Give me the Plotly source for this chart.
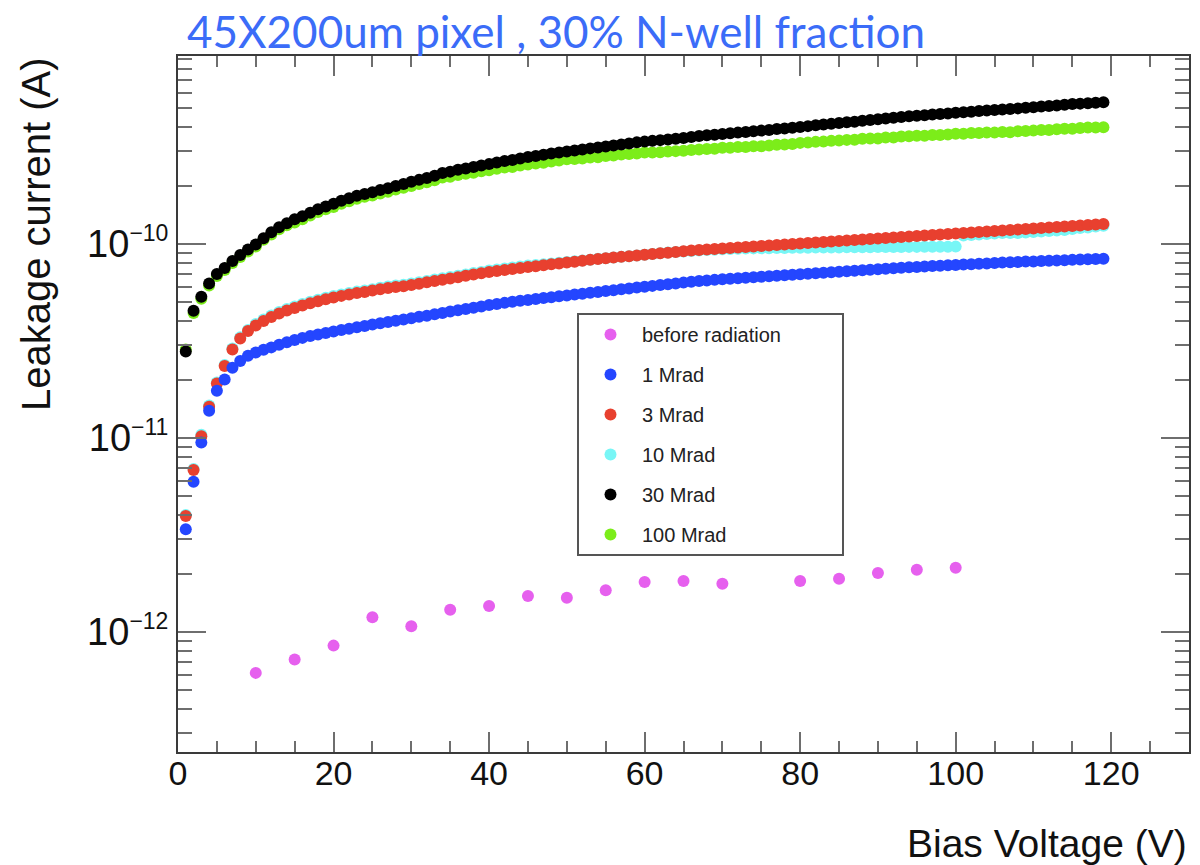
import plotly.graph_objects as go

# ---------------- data ----------------
volts = list(range(1, 120))

before_v = [10, 15, 20, 25, 30, 35, 40, 45, 50, 55, 60, 65, 70, 80, 85, 90, 95, 100]
before_i = [6.15e-13, 7.2e-13, 8.5e-13, 1.19e-12, 1.07e-12, 1.30e-12, 1.36e-12, 1.53e-12, 1.50e-12,
            1.64e-12, 1.81e-12, 1.83e-12, 1.77e-12, 1.83e-12, 1.88e-12, 2.01e-12, 2.09e-12, 2.14e-12]

mrad1_i = [3.38e-12, 5.95e-12, 9.46e-12, 1.38e-11, 1.75e-11, 2.00e-11, 2.30e-11, 2.49e-11, 2.65e-11, 2.76e-11,
           2.85e-11, 2.93e-11, 3.02e-11, 3.11e-11, 3.20e-11, 3.28e-11, 3.35e-11, 3.41e-11, 3.48e-11, 3.54e-11,
           3.60e-11, 3.66e-11, 3.72e-11, 3.78e-11, 3.84e-11, 3.90e-11, 3.96e-11, 4.02e-11, 4.08e-11, 4.14e-11,
           4.21e-11, 4.27e-11, 4.34e-11, 4.41e-11, 4.48e-11, 4.55e-11, 4.62e-11, 4.69e-11, 4.76e-11, 4.84e-11,
           4.91e-11, 4.97e-11, 5.03e-11, 5.09e-11, 5.14e-11, 5.20e-11, 5.26e-11, 5.31e-11, 5.37e-11, 5.43e-11,
           5.49e-11, 5.54e-11, 5.60e-11, 5.66e-11, 5.72e-11, 5.78e-11, 5.84e-11, 5.90e-11, 5.97e-11, 6.02e-11,
           6.08e-11, 6.14e-11, 6.20e-11, 6.26e-11, 6.32e-11, 6.38e-11, 6.44e-11, 6.48e-11, 6.53e-11, 6.58e-11,
           6.62e-11, 6.66e-11, 6.70e-11, 6.74e-11, 6.78e-11, 6.82e-11, 6.86e-11, 6.90e-11, 6.94e-11, 6.98e-11,
           7.02e-11, 7.06e-11, 7.11e-11, 7.15e-11, 7.19e-11, 7.23e-11, 7.28e-11, 7.32e-11, 7.36e-11, 7.41e-11,
           7.45e-11, 7.50e-11, 7.54e-11, 7.58e-11, 7.61e-11, 7.65e-11, 7.69e-11, 7.72e-11, 7.76e-11, 7.80e-11,
           7.83e-11, 7.87e-11, 7.91e-11, 7.94e-11, 7.98e-11, 8.02e-11, 8.05e-11, 8.08e-11, 8.11e-11, 8.13e-11,
           8.16e-11, 8.19e-11, 8.22e-11, 8.25e-11, 8.28e-11, 8.31e-11, 8.34e-11, 8.37e-11, 8.40e-11]

mrad3_i = [3.96e-12, 6.84e-12, 1.02e-11, 1.45e-11, 1.91e-11, 2.35e-11, 2.86e-11, 3.26e-11, 3.56e-11, 3.80e-11,
           4.01e-11, 4.20e-11, 4.38e-11, 4.54e-11, 4.68e-11, 4.82e-11, 4.95e-11, 5.07e-11, 5.19e-11, 5.30e-11,
           5.40e-11, 5.49e-11, 5.58e-11, 5.66e-11, 5.75e-11, 5.84e-11, 5.93e-11, 6.00e-11, 6.05e-11, 6.15e-11,
           6.24e-11, 6.34e-11, 6.44e-11, 6.54e-11, 6.64e-11, 6.74e-11, 6.85e-11, 6.96e-11, 7.06e-11, 7.16e-11,
           7.26e-11, 7.35e-11, 7.43e-11, 7.52e-11, 7.60e-11, 7.68e-11, 7.77e-11, 7.85e-11, 7.93e-11, 8.02e-11,
           8.10e-11, 8.19e-11, 8.28e-11, 8.37e-11, 8.44e-11, 8.51e-11, 8.58e-11, 8.65e-11, 8.73e-11, 8.80e-11,
           8.87e-11, 8.95e-11, 9.02e-11, 9.10e-11, 9.17e-11, 9.25e-11, 9.31e-11, 9.37e-11, 9.42e-11, 9.48e-11,
           9.54e-11, 9.59e-11, 9.65e-11, 9.71e-11, 9.77e-11, 9.82e-11, 9.88e-11, 9.94e-11, 1.000e-10, 1.006e-10,
           1.012e-10, 1.018e-10, 1.024e-10, 1.030e-10, 1.036e-10, 1.042e-10, 1.049e-10, 1.055e-10, 1.061e-10, 1.067e-10,
           1.074e-10, 1.080e-10, 1.087e-10, 1.093e-10, 1.100e-10, 1.106e-10, 1.113e-10, 1.119e-10, 1.126e-10, 1.133e-10,
           1.139e-10, 1.146e-10, 1.153e-10, 1.160e-10, 1.167e-10, 1.174e-10, 1.181e-10, 1.188e-10, 1.195e-10, 1.202e-10,
           1.209e-10, 1.216e-10, 1.224e-10, 1.231e-10, 1.238e-10, 1.246e-10, 1.253e-10, 1.260e-10, 1.268e-10]

mrad10_i = [4.01e-12, 6.92e-12, 1.04e-11, 1.47e-11, 1.93e-11, 2.38e-11, 2.89e-11, 3.30e-11, 3.60e-11, 3.87e-11,
            4.08e-11, 4.28e-11, 4.46e-11, 4.62e-11, 4.76e-11, 4.91e-11, 5.04e-11, 5.16e-11, 5.28e-11, 5.39e-11,
            5.49e-11, 5.58e-11, 5.68e-11, 5.76e-11, 5.85e-11, 5.95e-11, 6.04e-11, 6.11e-11, 6.16e-11, 6.26e-11,
            6.35e-11, 6.45e-11, 6.56e-11, 6.66e-11, 6.76e-11, 6.86e-11, 6.97e-11, 7.09e-11, 7.18e-11, 7.29e-11,
            7.39e-11, 7.48e-11, 7.56e-11, 7.66e-11, 7.74e-11, 7.80e-11, 7.87e-11, 7.94e-11, 8.01e-11, 8.08e-11,
            8.14e-11, 8.22e-11, 8.30e-11, 8.38e-11, 8.44e-11, 8.51e-11, 8.58e-11, 8.65e-11, 8.72e-11, 8.80e-11,
            8.88e-11, 8.96e-11, 9.03e-11, 9.10e-11, 9.15e-11, 9.20e-11, 9.26e-11, 9.30e-11, 9.35e-11, 9.39e-11,
            9.42e-11, 9.45e-11, 9.47e-11, 9.49e-11, 9.50e-11, 9.51e-11, 9.52e-11, 9.54e-11, 9.55e-11, 9.56e-11,
            9.57e-11, 9.58e-11, 9.59e-11, 9.60e-11, 9.60e-11, 9.61e-11, 9.62e-11, 9.63e-11, 9.63e-11, 9.64e-11,
            9.64e-11, 9.65e-11, 9.65e-11, 9.66e-11, 9.66e-11, 9.67e-11, 9.67e-11, 9.68e-11, 9.68e-11, 9.69e-11,
            1.106e-10, 1.113e-10, 1.120e-10, 1.126e-10, 1.133e-10, 1.140e-10, 1.140e-10, 1.139e-10, 1.146e-10, 1.153e-10,
            1.159e-10, 1.166e-10, 1.174e-10, 1.180e-10, 1.195e-10, 1.210e-10, 1.217e-10, 1.229e-10, 1.243e-10]

mrad30_i = [2.79e-11, 4.52e-11, 5.35e-11, 6.26e-11, 7.00e-11, 7.52e-11, 8.17e-11, 8.78e-11, 9.37e-11, 9.94e-11,
            1.07e-10, 1.15e-10, 1.22e-10, 1.28e-10, 1.34e-10, 1.39e-10, 1.45e-10, 1.51e-10, 1.56e-10, 1.61e-10,
            1.67e-10, 1.72e-10, 1.77e-10, 1.81e-10, 1.85e-10, 1.90e-10, 1.94e-10, 1.99e-10, 2.04e-10, 2.09e-10,
            2.14e-10, 2.19e-10, 2.25e-10, 2.32e-10, 2.36e-10, 2.41e-10, 2.45e-10, 2.49e-10, 2.54e-10, 2.58e-10,
            2.63e-10, 2.68e-10, 2.71e-10, 2.76e-10, 2.81e-10, 2.84e-10, 2.88e-10, 2.93e-10, 2.96e-10, 3.00e-10,
            3.03e-10, 3.07e-10, 3.11e-10, 3.14e-10, 3.18e-10, 3.22e-10, 3.26e-10, 3.30e-10, 3.34e-10, 3.37e-10,
            3.40e-10, 3.43e-10, 3.46e-10, 3.49e-10, 3.52e-10, 3.56e-10, 3.60e-10, 3.63e-10, 3.66e-10, 3.69e-10,
            3.72e-10, 3.75e-10, 3.78e-10, 3.81e-10, 3.84e-10, 3.87e-10, 3.91e-10, 3.94e-10, 3.97e-10, 4.01e-10,
            4.05e-10, 4.09e-10, 4.13e-10, 4.16e-10, 4.20e-10, 4.24e-10, 4.27e-10, 4.32e-10, 4.36e-10, 4.39e-10,
            4.43e-10, 4.47e-10, 4.51e-10, 4.55e-10, 4.58e-10, 4.61e-10, 4.65e-10, 4.68e-10, 4.71e-10, 4.75e-10,
            4.78e-10, 4.81e-10, 4.85e-10, 4.88e-10, 4.90e-10, 4.93e-10, 4.96e-10, 5.00e-10, 5.04e-10, 5.07e-10,
            5.11e-10, 5.14e-10, 5.18e-10, 5.22e-10, 5.26e-10, 5.29e-10, 5.32e-10, 5.35e-10, 5.38e-10]

mrad100_i = [2.86e-11, 4.41e-11, 5.22e-11, 6.11e-11, 6.84e-11, 7.34e-11, 7.98e-11, 8.57e-11, 9.15e-11, 9.71e-11,
             1.05e-10, 1.12e-10, 1.19e-10, 1.25e-10, 1.29e-10, 1.34e-10, 1.40e-10, 1.46e-10, 1.51e-10, 1.55e-10,
             1.61e-10, 1.66e-10, 1.71e-10, 1.75e-10, 1.78e-10, 1.82e-10, 1.86e-10, 1.91e-10, 1.95e-10, 1.99e-10,
             2.04e-10, 2.08e-10, 2.13e-10, 2.20e-10, 2.22e-10, 2.27e-10, 2.30e-10, 2.33e-10, 2.37e-10, 2.40e-10,
             2.44e-10, 2.48e-10, 2.49e-10, 2.54e-10, 2.57e-10, 2.60e-10, 2.62e-10, 2.66e-10, 2.69e-10, 2.73e-10,
             2.74e-10, 2.76e-10, 2.79e-10, 2.80e-10, 2.84e-10, 2.86e-10, 2.89e-10, 2.91e-10, 2.93e-10, 2.96e-10,
             2.96e-10, 2.97e-10, 3.00e-10, 3.01e-10, 3.02e-10, 3.05e-10, 3.07e-10, 3.09e-10, 3.10e-10, 3.13e-10,
             3.13e-10, 3.16e-10, 3.16e-10, 3.19e-10, 3.19e-10, 3.22e-10, 3.25e-10, 3.26e-10, 3.28e-10, 3.32e-10,
             3.33e-10, 3.36e-10, 3.37e-10, 3.40e-10, 3.41e-10, 3.44e-10, 3.45e-10, 3.49e-10, 3.50e-10, 3.50e-10,
             3.54e-10, 3.54e-10, 3.58e-10, 3.59e-10, 3.61e-10, 3.61e-10, 3.65e-10, 3.65e-10, 3.67e-10, 3.70e-10,
             3.70e-10, 3.73e-10, 3.73e-10, 3.76e-10, 3.75e-10, 3.78e-10, 3.77e-10, 3.81e-10, 3.82e-10, 3.84e-10,
             3.87e-10, 3.87e-10, 3.90e-10, 3.93e-10, 3.93e-10, 3.96e-10, 3.98e-10, 3.98e-10, 4.00e-10]

# series in legend order
names = ["before radiation", "1 Mrad", "3 Mrad", "10 Mrad", "30 Mrad", "100 Mrad"]
colors = ["#e660ee", "#2446ff", "#e8402f", "#78f6f6", "#000000", "#7ced1a"]
xs = [before_v, volts, volts, volts, volts, volts]
ys = [before_i, mrad1_i, mrad3_i, mrad10_i, mrad30_i, mrad100_i]

y_tickvals = [1e-12, 1e-11, 1e-10]
y_ticktext = ["10<sup><span style='font-size:23px'>\u221212</span></sup>",
              "10<sup><span style='font-size:23px'>\u221211</span></sup>",
              "10<sup><span style='font-size:23px'>\u221210</span></sup>"]

# page offset of the plot in the browser (default body margin)
OFF = 8

fig = go.Figure()
# draw in reverse order (last legend entry drawn first, at the bottom)
for k in reversed(range(len(names))):
    label = names[k]
    if k == 0:
        # widen the legend box to match the reference frame
        label = label + "\u00a0" * 10
    fig.add_trace(go.Scatter(
        x=xs[k], y=ys[k], mode="markers", name=label,
        legendgroup=names[k], legendrank=k + 1,
        marker=dict(color=colors[k], size=12, line=dict(width=0)),
    ))

axis_line = "#3a3a3a"
tick_col = "#6e6e6e"

L, R, T, B = 178 - OFF, 1200 - (1189 - OFF), 56 - OFF, 865 - (752 - OFF)
PW, PH = 1200 - L - R, 865 - T - B

fig.update_layout(
    width=1200, height=865,
    margin=dict(l=L, r=R, t=T, b=B),
    paper_bgcolor="white", plot_bgcolor="white",
    showlegend=True,
    title=dict(text="45X200um pixel , 30% N-well fraction",
               font=dict(family="Lato, Noto Sans, sans-serif", size=44, color="#3b6cf8"),
               x=(187 - OFF) / 1200, xanchor="left", xref="container",
               y=1 - 25 / 865, yanchor="middle", yref="container"),
    legend=dict(
        x=(577 - 178) / PW, y=(752 - 313) / PH, xanchor="left", yanchor="top",
        bgcolor="white", bordercolor="#555555", borderwidth=2,
        font=dict(family="Liberation Sans, Arial, sans-serif", size=20, color="#222222"),
        traceorder="grouped", tracegroupgap=11,
        itemwidth=53,
    ),
    font=dict(family="Liberation Sans, Arial, sans-serif", color="#111111"),
)

fig.update_xaxes(
    range=[0, 130], dtick=20, tick0=0,
    showline=True, linecolor=axis_line, linewidth=2, mirror="allticks",
    ticks="inside", ticklen=20, tickwidth=2, tickcolor=tick_col,
    minor=dict(ticks="inside", dtick=5, ticklen=11, tickwidth=2, tickcolor=tick_col, showgrid=False),
    showgrid=False, zeroline=False, ticklabelstandoff=-10,
    tickfont=dict(family="Liberation Sans Narrow, Liberation Sans, Arial", size=34, color="#111111"),
)
fig.update_yaxes(
    type="log", range=[-12.619, -9.031],
    tickmode="array", tickvals=y_tickvals, ticktext=y_ticktext,
    showline=True, linecolor=axis_line, linewidth=2, mirror="allticks",
    ticks="inside", ticklen=28, tickwidth=2, tickcolor=tick_col,
    minor=dict(ticks="inside", dtick="D1", ticklen=14, tickwidth=2, tickcolor=tick_col, showgrid=False),
    showgrid=False, zeroline=False,
    tickfont=dict(family="Liberation Sans, Arial", size=38, color="#111111"),
)

fig.add_annotation(text="Bias Voltage (V)", xref="paper", yref="paper",
                   x=1.0, y=(752 - 843) / PH, xanchor="right", yanchor="middle",
                   showarrow=False,
                   font=dict(family="Liberation Sans, Arial", size=39, color="#111111"))
fig.add_annotation(text="Leakage current (A)", xref="paper", yref="paper",
                   x=(36 - 178) / PW, y=(752 - 55) / PH, xanchor="center", yanchor="top",
                   textangle=-90, showarrow=False,
                   font=dict(family="Liberation Sans, Arial", size=40, color="#111111"))

fig.write_html("out.html")
